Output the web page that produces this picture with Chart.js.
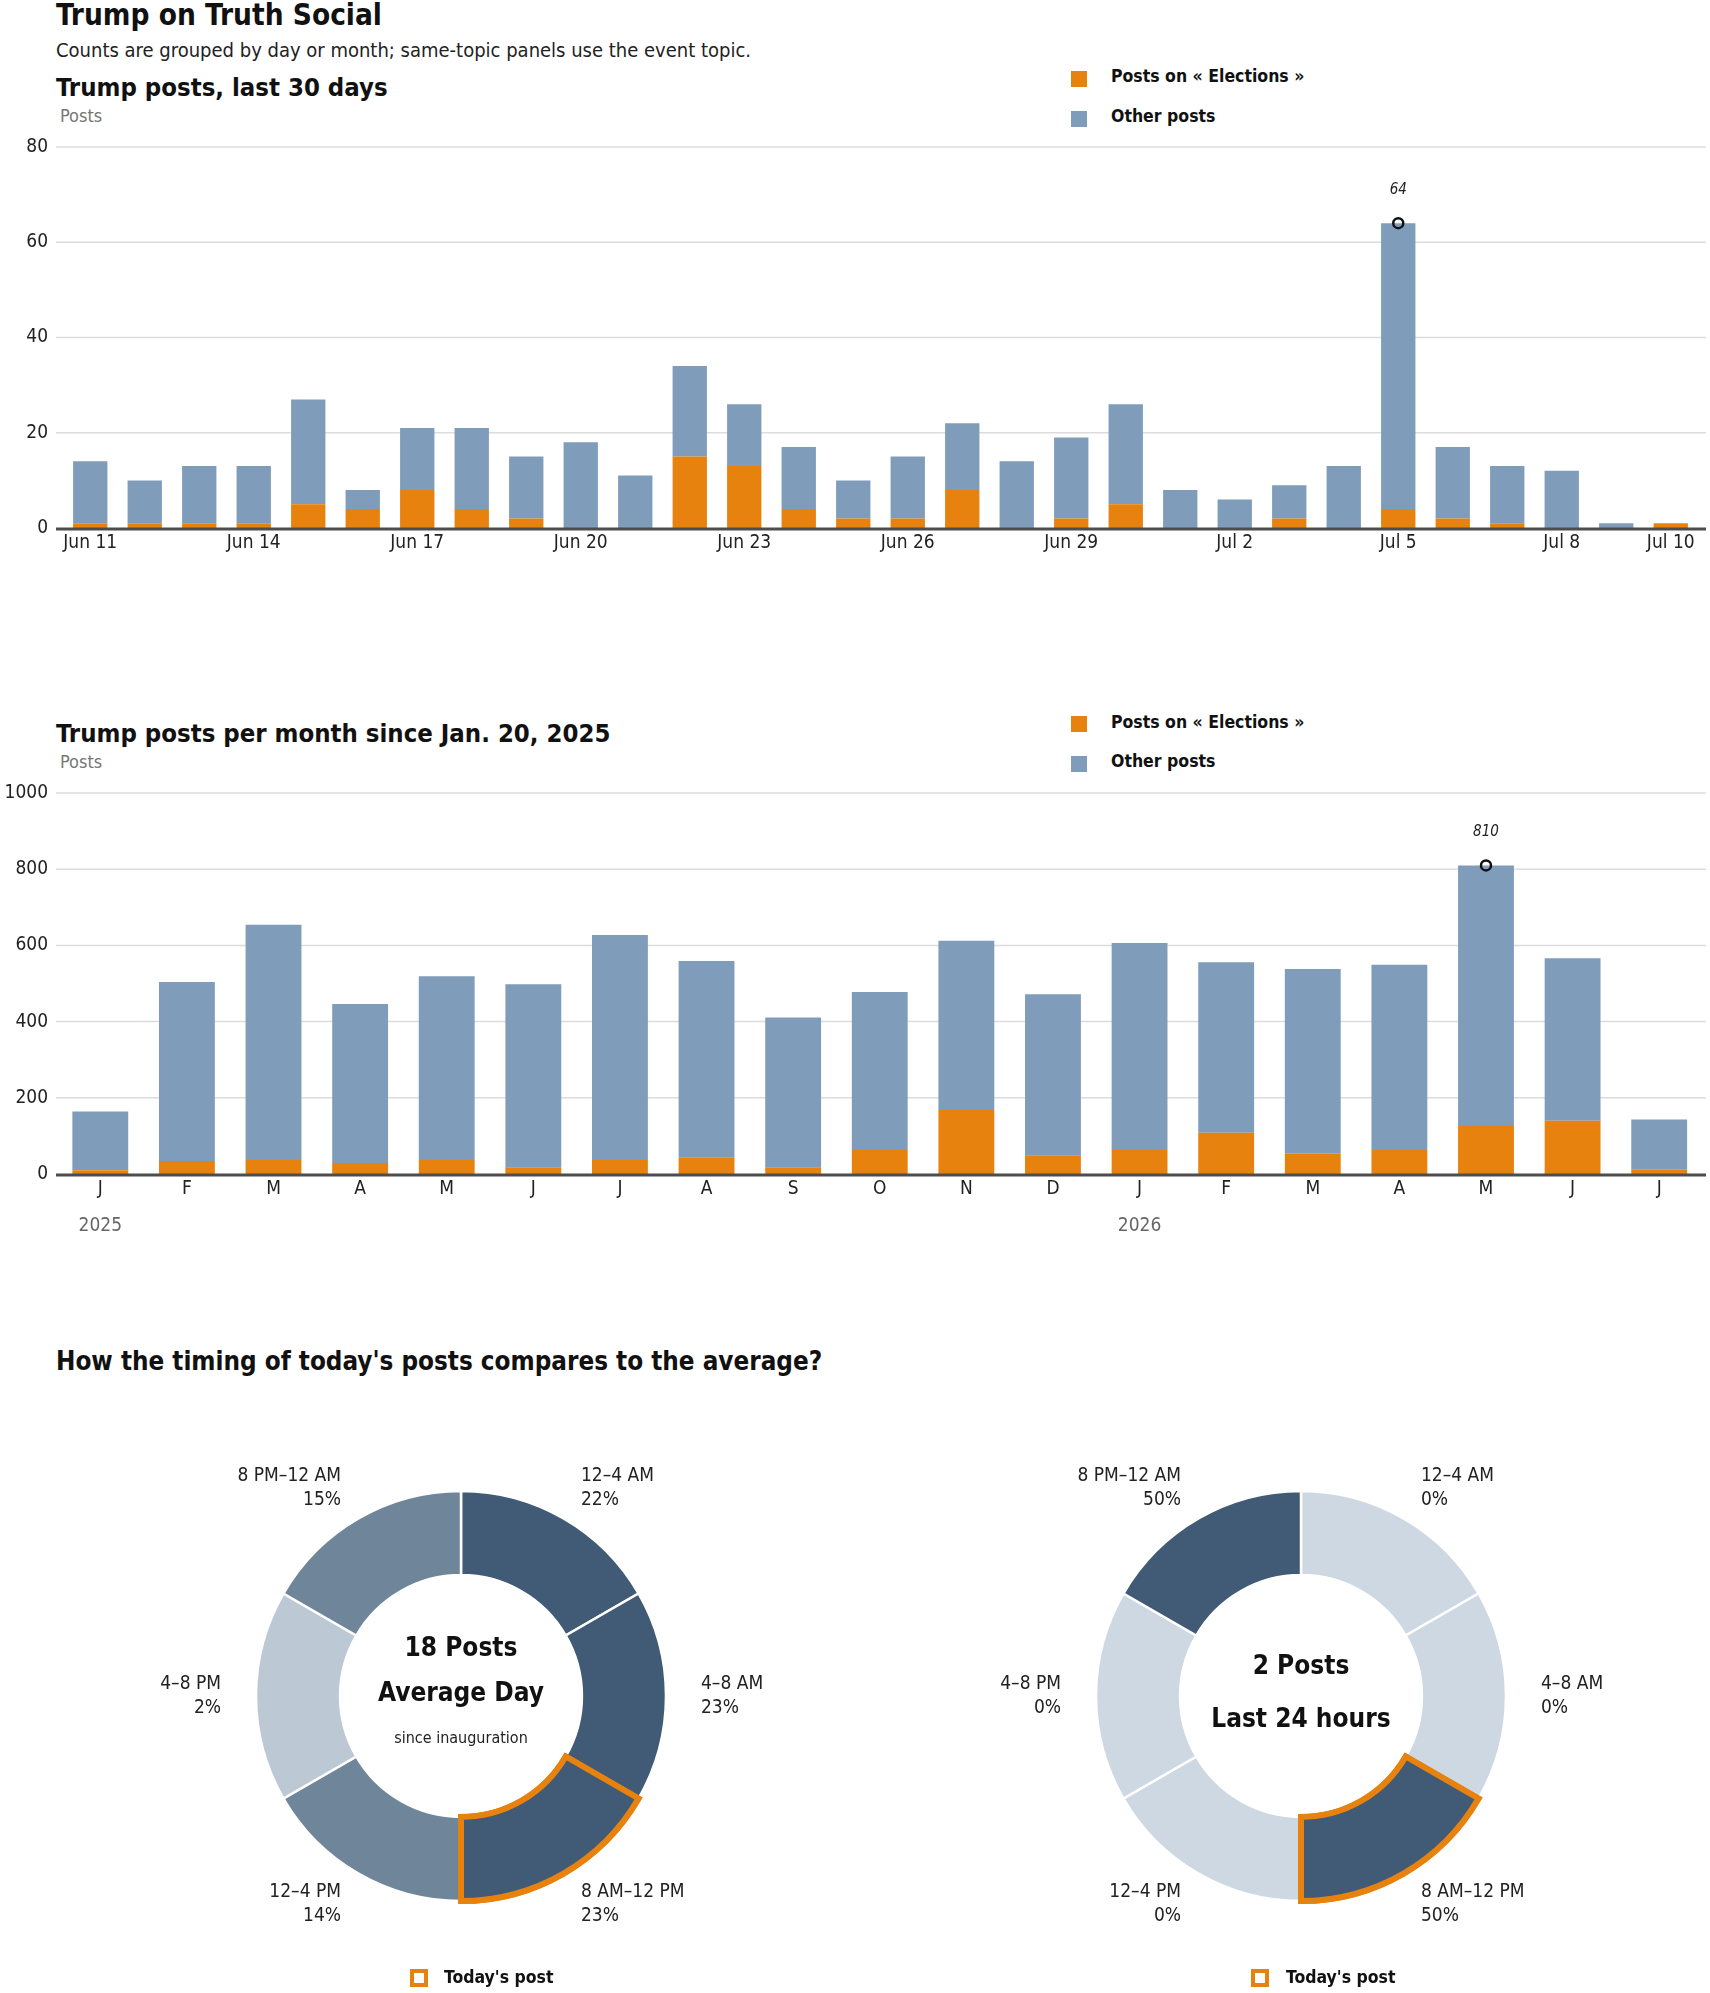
<!DOCTYPE html>
<html>
<head>
<meta charset="utf-8">
<title>Trump on Truth Social</title>
<script src="https://cdn.jsdelivr.net/npm/chart.js@4.4.1/dist/chart.umd.min.js"></script>
<style>
  body { margin: 0; background: #fff; }
  #page { position: relative; width: 1710px; height: 1993px; overflow: hidden;
          font-family: "Liberation Sans Narrow", "DejaVu Sans Condensed", "Arial Narrow", sans-serif; color: #111; }
  .t { position: absolute; white-space: nowrap; line-height: 1; }
  .h1 { font-size: 29.5px; font-weight: 700; }
  .h2 { font-size: 25.5px; font-weight: 700; }
  .h3 { font-size: 25.8px; font-weight: 700; }
  .sub { font-size: 20px; color: #222; }
  .unit { font-size: 18px; color: #777; }
  .leg { font-size: 17.5px; font-weight: 700; }
  .sq { position: absolute; width: 16px; height: 16px; }
  .mid { text-align: center; width: 300px; }
  .big { font-size: 26px; font-weight: 700; }
  .small { font-size: 16px; color: #222; }
  .box { position: absolute; width: 18px; height: 18px; box-sizing: border-box; border: 4px solid #e8820f; }
  canvas { position: absolute; }
</style>
</head>
<body>
<div id="page">
  <div class="t h1" style="left:56px; top:1px;">Trump on Truth Social</div>
  <div class="t sub" style="left:56px; top:40px;">Counts are grouped by day or month; same-topic panels use the event topic.</div>

  <div class="t h2" style="left:56px; top:75px;">Trump posts, last 30 days</div>
  <div class="t unit" style="left:60px; top:107px;">Posts</div>
  <div class="sq" style="left:1071px; top:71px; background:#e8820f;"></div>
  <div class="t leg" style="left:1111px; top:68px;">Posts on « Elections »</div>
  <div class="sq" style="left:1071px; top:111px; background:#7f9dba;"></div>
  <div class="t leg" style="left:1111px; top:108px;">Other posts</div>
  <canvas id="daily" width="1710" height="470" style="left:0; top:100px;"></canvas>

  <div class="t h2" style="left:56px; top:721px;">Trump posts per month since Jan. 20, 2025</div>
  <div class="t unit" style="left:60px; top:753px;">Posts</div>
  <div class="sq" style="left:1071px; top:716px; background:#e8820f;"></div>
  <div class="t leg" style="left:1111px; top:714px;">Posts on « Elections »</div>
  <div class="sq" style="left:1071px; top:756px; background:#7f9dba;"></div>
  <div class="t leg" style="left:1111px; top:753px;">Other posts</div>
  <canvas id="monthly" width="1710" height="499" style="left:0; top:745px;"></canvas>

  <div class="t h3" style="left:56px; top:1349px;">How the timing of today's posts compares to the average?</div>

  <canvas id="avgDonut" width="680" height="560" style="left:121px; top:1416px;"></canvas>
  <div class="t mid big" style="left:311px; top:1634px;">18 Posts</div>
  <div class="t mid big" style="left:311px; top:1679px;">Average Day</div>
  <div class="t mid small" style="left:311px; top:1730px;">since inauguration</div>
  <div class="box" style="left:410px; top:1969px;"></div>
  <div class="t leg" style="left:444px; top:1969px;">Today's post</div>

  <canvas id="todayDonut" width="680" height="560" style="left:961px; top:1416px;"></canvas>
  <div class="t mid big" style="left:1151px; top:1652px;">2 Posts</div>
  <div class="t mid big" style="left:1151px; top:1705px;">Last 24 hours</div>
  <div class="box" style="left:1251px; top:1969px;"></div>
  <div class="t leg" style="left:1286px; top:1969px;">Today's post</div>
</div>

<script>
// last 30 days
const days = ['Jun 11', 'Jun 12', 'Jun 13', 'Jun 14', 'Jun 15', 'Jun 16', 'Jun 17', 'Jun 18', 'Jun 19', 'Jun 20',
              'Jun 21', 'Jun 22', 'Jun 23', 'Jun 24', 'Jun 25', 'Jun 26', 'Jun 27', 'Jun 28', 'Jun 29', 'Jun 30',
              'Jul 1', 'Jul 2', 'Jul 3', 'Jul 4', 'Jul 5', 'Jul 6', 'Jul 7', 'Jul 8', 'Jul 9', 'Jul 10'];
const electionsDaily = [1, 1, 1, 1, 5, 4, 8, 4, 2, 0, 0, 15, 13, 4, 2, 2, 8, 0, 2, 5, 0, 0, 2, 0, 4, 2, 1, 0, 0, 1];
const otherDaily = [13, 9, 12, 12, 22, 4, 13, 17, 13, 18, 11, 19, 13, 13, 8, 13, 14, 14, 17, 21, 8, 6, 7, 13, 60, 15, 12, 12, 1, 0];

// per month since inauguration
const months = ['2025-01', '2025-02', '2025-03', '2025-04', '2025-05', '2025-06', '2025-07', '2025-08', '2025-09', '2025-10',
                '2025-11', '2025-12', '2026-01', '2026-02', '2026-03', '2026-04', '2026-05', '2026-06', '2026-07'];
const electionsMonthly = [10, 34, 37, 29, 37, 18, 37, 44, 18, 63, 168, 49, 63, 108, 53, 63, 126, 140, 11];
const otherMonthly = [154, 470, 617, 417, 482, 480, 590, 515, 393, 415, 444, 423, 543, 448, 485, 486, 684, 426, 132];
const monthInitials = 'JFMAMJJASOND';

// time of day
const slots = ['12–4 AM', '4–8 AM', '8 AM–12 PM', '12–4 PM', '4–8 PM', '8 PM–12 AM'];
const slotHours = [4, 4, 4, 4, 4, 4];
const avgShare = [22, 23, 23, 14, 2, 15];
const todayShare = [0, 0, 50, 0, 0, 50];
const todaySlot = 2;

const FONT = '"Liberation Sans Narrow", "DejaVu Sans Condensed", "Arial Narrow", sans-serif';
const ORANGE = '#e8820f';
const BLUE = '#7f9dba';

Chart.defaults.font.family = FONT;
Chart.defaults.font.size = 19;
Chart.defaults.color = '#222';

// gridlines a bit wider than the bars, plus the dark zero line
const frameLines = {
  id: 'frameLines',
  beforeDatasetsDraw(chart, args, opts) {
    const y = chart.scales.y, ctx = chart.ctx;
    ctx.save();
    ctx.strokeStyle = '#dcdcdc';
    ctx.lineWidth = 1.5;
    y.ticks.forEach(t => {
      if (t.value === 0) return;
      const py = y.getPixelForValue(t.value);
      ctx.beginPath(); ctx.moveTo(opts.x0, py); ctx.lineTo(opts.x1, py); ctx.stroke();
    });
    ctx.restore();
  },
  afterDatasetsDraw(chart, args, opts) {
    const y = chart.scales.y, ctx = chart.ctx;
    const py = y.getPixelForValue(0);
    ctx.save();
    ctx.strokeStyle = '#4d4d4d';
    ctx.lineWidth = 3;
    ctx.beginPath(); ctx.moveTo(opts.x0, py + 1); ctx.lineTo(opts.x1, py + 1); ctx.stroke();
    ctx.restore();
  }
};

// value above the peak marker
const peakLabel = {
  id: 'peakLabel',
  afterDatasetsDraw(chart) {
    const ctx = chart.ctx;
    chart.data.datasets.forEach((ds, di) => {
      if (ds.type !== 'line') return;
      const meta = chart.getDatasetMeta(di);
      ds.data.forEach((v, i) => {
        if (v == null) return;
        const pt = meta.data[i];
        ctx.save();
        ctx.font = 'italic 15px ' + FONT;
        ctx.fillStyle = '#222';
        ctx.textAlign = 'center';
        ctx.textBaseline = 'middle';
        ctx.fillText(String(v), pt.x, pt.y - 33);
        ctx.restore();
      });
    });
  }
};

// year under each January
const yearLabels = {
  id: 'yearLabels',
  afterDraw(chart) {
    const x = chart.scales.x, ctx = chart.ctx;
    ctx.save();
    ctx.font = '19px ' + FONT;
    ctx.fillStyle = '#666';
    ctx.textAlign = 'center';
    ctx.textBaseline = 'middle';
    months.forEach((m, i) => {
      if (m.slice(5) !== '01') return;
      ctx.fillText(m.slice(0, 4), x.getPixelForValue(i), chart.chartArea.bottom + 52);
    });
    ctx.restore();
  }
};

function barChart(id, labels, elections, other, o) {
  const totals = elections.map((v, i) => v + other[i]);
  const peak = totals.indexOf(Math.max(...totals));
  return new Chart(document.getElementById(id), {
    type: 'bar',
    data: {
      labels: labels,
      datasets: [
        { label: 'Posts on « Elections »', data: elections, backgroundColor: ORANGE,
          barPercentage: o.bar, categoryPercentage: 1, order: 2 },
        { label: 'Other posts', data: other, backgroundColor: BLUE,
          barPercentage: o.bar, categoryPercentage: 1, order: 2 },
        { type: 'line', label: 'peak', data: totals.map((t, i) => i === peak ? t : null),
          showLine: false, pointRadius: 5, pointBorderWidth: 2.5, pointBorderColor: '#111',
          pointBackgroundColor: 'rgba(0,0,0,0)', order: 0 }
      ]
    },
    options: {
      responsive: false,
      animation: false,
      events: [],
      layout: { padding: { top: o.padTop, right: o.padRight, bottom: 0, left: 0 } },
      plugins: {
        legend: { display: false },
        tooltip: { enabled: false },
        frameLines: { x0: 56, x1: 1706 }
      },
      scales: {
        x: {
          stacked: true,
          grid: { display: false, drawTicks: false },
          border: { display: false },
          ticks: { autoSkip: false, maxRotation: 0, padding: 4, color: '#222', callback: o.tick },
          afterFit: a => { a.height = o.xh; }
        },
        y: {
          stacked: true,
          min: 0,
          max: o.max,
          grid: { display: false, drawTicks: false },
          border: { display: false },
          ticks: { stepSize: o.step, padding: o.ypad, color: '#222', callback: v => String(v) },
          afterFit: a => { a.width = o.yw; }
        }
      }
    },
    plugins: [frameLines, peakLabel].concat(o.extra || [])
  });
}

barChart('daily', days, electionsDaily, otherDaily, {
  bar: 0.63, padTop: 47, padRight: 12, xh: 42, yw: 63, ypad: 15, max: 80, step: 20,
  tick: (v, i) => (i % 3 === 0 || i === days.length - 1) ? days[i] : ''
});

barChart('monthly', months, electionsMonthly, otherMonthly, {
  bar: 0.645, padTop: 48, padRight: 5, xh: 70, yw: 57, ypad: 9, max: 1000, step: 200,
  tick: (v, i) => monthInitials[parseInt(months[i].slice(5), 10) - 1],
  extra: [yearLabels]
});

// donuts: equal 4-hour slices, shaded by share of posts
function shade(p) {
  if (p >= 20) return '#415a75';
  if (p >= 10) return '#6f8599';
  if (p > 0) return '#bcc9d5';
  return '#cdd8e2';
}

const slotLabels = {
  id: 'slotLabels',
  afterDatasetsDraw(chart, args, opts) {
    const ctx = chart.ctx;
    const meta = chart.getDatasetMeta(0);
    // redraw the highlighted slice so its outline sits on top of its neighbours
    meta.data[todaySlot].draw(ctx);
    ctx.save();
    ctx.font = '19px ' + FONT;
    ctx.fillStyle = '#222';
    ctx.textBaseline = 'middle';
    meta.data.forEach((arc, i) => {
      const a = (arc.startAngle + arc.endAngle) / 2;
      const r = arc.outerRadius + 35;
      const x = arc.x + Math.cos(a) * r;
      const y = arc.y + Math.sin(a) * r;
      ctx.textAlign = x > arc.x ? 'left' : 'right';
      ctx.fillText(slots[i], x, y - 12);
      ctx.fillText(opts.share[i] + '%', x, y + 12);
    });
    ctx.restore();
  }
};

function donut(id, share) {
  return new Chart(document.getElementById(id), {
    type: 'doughnut',
    data: {
      labels: slots,
      datasets: [{
        data: slotHours,
        backgroundColor: share.map(shade),
        borderColor: slots.map((s, i) => i === todaySlot ? ORANGE : '#fff'),
        borderWidth: slots.map((s, i) => i === todaySlot ? 6 : 2.5),
        borderJoinStyle: 'miter'
      }]
    },
    options: {
      responsive: false,
      animation: false,
      events: [],
      cutout: '59%',
      layout: { padding: { left: 132, right: 132, top: 72, bottom: 72 } },
      plugins: {
        legend: { display: false },
        tooltip: { enabled: false },
        slotLabels: { share: share }
      }
    },
    plugins: [slotLabels]
  });
}

donut('avgDonut', avgShare);
donut('todayDonut', todayShare);
</script>
</body>
</html>
